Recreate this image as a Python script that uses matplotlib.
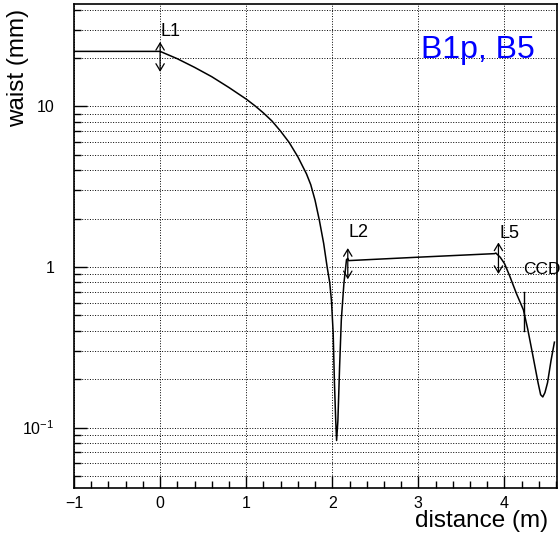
import matplotlib
matplotlib.use("Agg")
import matplotlib.pyplot as plt
from matplotlib.ticker import FixedLocator, FuncFormatter, LogLocator, MultipleLocator

plt.rcParams['font.family'] = ['Liberation Sans', 'DejaVu Sans']
plt.rcParams['mathtext.fontset'] = 'custom'
plt.rcParams['mathtext.rm'] = 'Liberation Sans'

# beam waist along the line
distance = [-1.0, 0.0, 0.2, 0.4, 0.6, 0.8, 1.0, 1.1, 1.2, 1.3, 1.4, 1.5, 1.6, 1.7, 1.75, 1.8,
            1.85, 1.9, 1.94, 1.97, 1.99, 2.01, 2.025, 2.04, 2.05, 2.065, 2.085,
            2.105, 2.135, 2.165, 2.18, 2.19, 3.0, 3.885, 3.9, 3.95, 4.0, 4.06,
            4.14, 4.22, 4.27, 4.33, 4.39, 4.42, 4.445, 4.47, 4.5, 4.54, 4.58]
waist = [22.0, 22.0, 19.8, 17.5, 15.3, 13.1, 11.1, 10.1, 9.1, 8.1, 7.0, 5.95, 4.85, 3.8, 3.25, 2.6,
         1.95, 1.4, 1.0, 0.8, 0.62, 0.39, 0.19, 0.11, 0.083, 0.11, 0.24,
         0.47, 0.79, 1.11, 1.13, 1.095, 1.15, 1.21, 1.22, 1.15, 1.05, 0.88,
         0.68, 0.54, 0.41, 0.28, 0.19, 0.16, 0.155, 0.165, 0.19, 0.26, 0.34]

# lenses: name, position, arrow bottom/top, label height
lens_names = ["L1", "L2", "L5"]
lens_pos = [0.0, 2.18, 3.93]
lens_low = [16.4, 0.838, 0.904]
lens_high = [25.2, 1.31, 1.42]
lens_label_y = [29.4, 1.63, 1.61]

ccd_pos = 4.23
ccd_low, ccd_high = 0.40, 0.70

fig = plt.figure(figsize=(5.6, 5.4), dpi=100)
ax = fig.add_axes([74/560, 1 - 488/540, (557-74)/560, (488-4)/540])

ax.plot(distance, waist, color='black', lw=1.1)

for name, xp, lo, hi, ly in zip(lens_names, lens_pos, lens_low, lens_high, lens_label_y):
    ax.annotate("", xy=(xp, lo), xytext=(xp, hi),
                arrowprops=dict(arrowstyle='<->,head_length=0.5,head_width=0.3',
                                color='black', lw=0.9, shrinkA=0, shrinkB=0))
    ax.text(xp + 0.01, ly, name, fontsize=13, va='center', ha='left')

ax.plot([ccd_pos, ccd_pos], [ccd_low, ccd_high], color='black', lw=1.0)
ax.text(4.22, 0.97, "CCD", fontsize=12.5, va='center', ha='left')

ax.text(0.718, 0.905, "B1p, B5", transform=ax.transAxes, color='#0000ff',
        fontsize=23, va='center', ha='left')

ax.set_yscale('log')
ax.set_xlim(-1, 4.61)
ax.set_ylim(0.042, 43.4)

ax.xaxis.set_major_locator(MultipleLocator(1))
ax.xaxis.set_minor_locator(MultipleLocator(0.2))
ax.yaxis.set_major_locator(FixedLocator([0.1, 1, 10]))
ax.yaxis.set_minor_locator(LogLocator(base=10, subs=range(2, 10)))

def ylab(v, pos):
    if v == 10:
        return "10"
    if v == 1:
        return "1"
    return r"$10^{-1}$"

ax.yaxis.set_major_formatter(FuncFormatter(ylab))
ax.yaxis.set_minor_formatter(FuncFormatter(lambda v, p: ""))

ax.tick_params(axis='both', which='major', direction='in', labelsize=11.5, length=9, width=1)
ax.tick_params(axis='both', which='minor', direction='in', length=5, width=1)
ax.tick_params(axis='x', pad=6)
ax.tick_params(axis='y', pad=14)

ax.grid(True, which='major', axis='x', color='black', linestyle=':', lw=0.7)
ax.grid(True, which='both', axis='y', color='black', linestyle=':', lw=0.7)
ax.set_axisbelow(True)

for s in ax.spines.values():
    s.set_linewidth(1.2)

fig.text(18/560, 1 - 9/540, "waist (mm)", rotation=90, fontsize=17.5, ha='center', va='top')
fig.text(548/560, 1 - 521/540, "distance (m)", fontsize=17.5, ha='right', va='center')

fig.savefig("out.png", dpi=100)
